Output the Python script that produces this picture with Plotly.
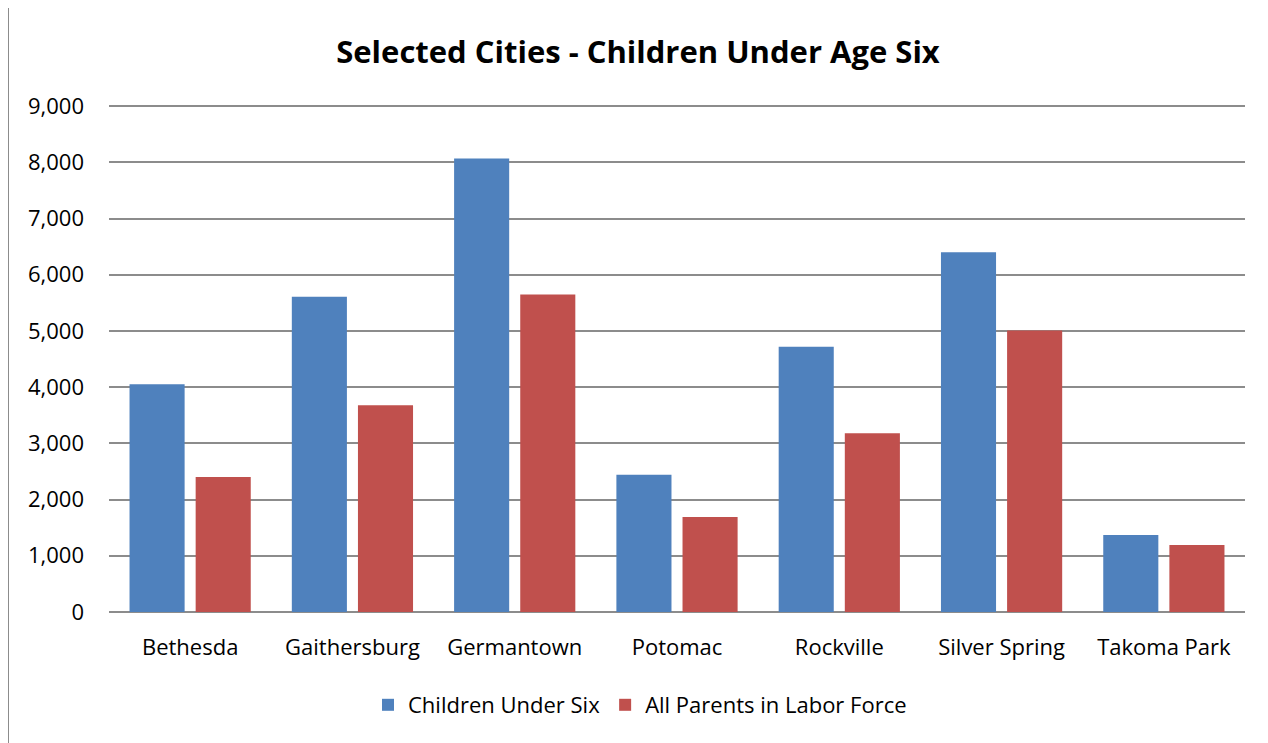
import plotly.graph_objects as go

cities = ["Bethesda", "Gaithersburg", "Germantown", "Potomac", "Rockville", "Silver Spring", "Takoma Park"]
children_under_six = [4050, 5610, 8070, 2440, 4720, 6400, 1370]
all_parents_labor = [2400, 3680, 5650, 1690, 3180, 5010, 1190]
y_ticks = [0, 1000, 2000, 3000, 4000, 5000, 6000, 7000, 8000, 9000]
y_tick_text = ["0", "1,000", "2,000", "3,000", "4,000", "5,000", "6,000", "7,000", "8,000", "9,000"]

FONT = "'Open Sans', 'Noto Sans', sans-serif"

L, R, T, B = 101, 31, 97, 139
PW = 1268 - L - R
PH = 743 - T - B

fig = go.Figure()
fig.add_trace(go.Bar(x=cities, y=children_under_six, name="Children Under Six",
                     marker=dict(color="#4F81BD", line=dict(width=0))))
fig.add_trace(go.Bar(x=cities, y=all_parents_labor, name="All Parents in Labor Force",
                     marker=dict(color="#C0504D", line=dict(width=0))))

fig.update_layout(
    width=1268, height=743,
    paper_bgcolor="white", plot_bgcolor="white",
    margin=dict(l=L, r=R, t=T, b=B),
    barmode="group", bargap=0.185, bargroupgap=0.167,
    title=dict(text="<b>Selected Cities - Children Under Age Six</b>",
               x=(638 - 8) / 1268, xanchor="center", y=1 - 44 / 743, yanchor="middle",
               font=dict(family=FONT, size=31, color="black")),
    font=dict(family=FONT, size=18, color="black"),
    xaxis=dict(showgrid=False, showline=False, ticks="", ticklabelstandoff=20,
               tickfont=dict(size=22)),
    yaxis=dict(range=[0, 9020], tickvals=y_ticks, ticktext=y_tick_text,
               showgrid=True, gridcolor="#8C8C8C", gridwidth=1.6,
               zeroline=True, zerolinecolor="#8C8C8C", zerolinewidth=1.6,
               showline=False, ticks="", ticklabelstandoff=24,
               tickfont=dict(size=22)),
    legend=dict(orientation="h", x=(640 - 8 - L) / PW, xanchor="center",
                y=-(697 - (743 - B)) / PH, yanchor="middle",
                font=dict(size=22), itemwidth=30, traceorder="normal"),
    shapes=[dict(type="line", xref="paper", yref="paper",
                 x0=-L / PW, x1=-L / PW, y0=(743 - B) / PH, y1=-B / PH,
                 line=dict(color="#8C8C8C", width=2))],
)

fig.write_html("out.html")
